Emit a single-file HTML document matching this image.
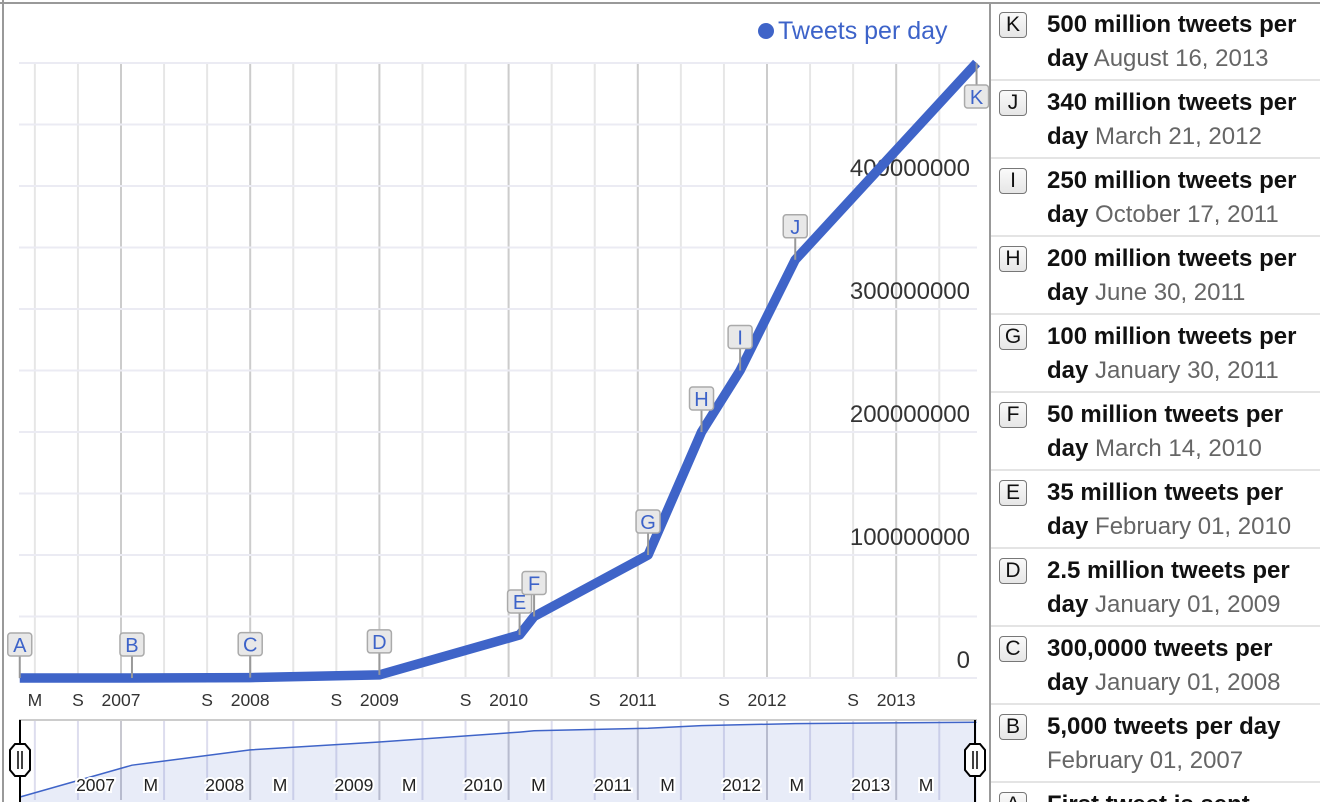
<!DOCTYPE html>
<html><head><meta charset="utf-8"><style>
html,body{margin:0;width:1320px;height:802px;overflow:hidden;background:#fff;font-family:"Liberation Sans",sans-serif;position:relative}
#panel{position:absolute;left:989px;top:3px;width:331px;height:799px;border-left:2px solid #999;overflow:hidden}
.row{position:absolute;left:0;width:331px;height:76px;border-bottom:2px solid #e4e4e4;overflow:hidden}
.lb{position:absolute;left:8px;top:9px;width:26px;height:24px;border:1.5px solid #777;border-radius:4px;background:linear-gradient(#fafafa,#e6e6e6);font-size:21px;text-align:center;line-height:24px;color:#111}
.tx{position:absolute;left:56px;top:5px;font-size:24px;line-height:34px;color:#111;white-space:nowrap}
.tx b{font-weight:bold}.tx span{color:#666}
</style></head><body>
<svg id="chart" width="1320" height="802" style="position:absolute;left:0;top:0"></svg>
<div id="panel"></div>
<script>
const letters=["A","B","C","D","E","F","G","H","I","J","K"];
const dates=["2006-03-21","2007-02-01","2008-01-01","2009-01-01","2010-02-01","2010-03-14","2011-01-30","2011-06-30","2011-10-17","2012-03-21","2013-08-16"];
const values=[0,5000,300000,2500000,35000000,50000000,100000000,200000000,250000000,340000000,500000000];
const titles=["First tweet is sent","5,000 tweets per day","300,0000 tweets per","2.5 million tweets per","35 million tweets per","50 million tweets per","100 million tweets per","200 million tweets per","250 million tweets per","340 million tweets per","500 million tweets per"];
const titleRest=["","","day","day","day","day","day","day","day","day","day"];
const dateLabels=["March 21, 2006","February 01, 2007","January 01, 2008","January 01, 2009","February 01, 2010","March 14, 2010","January 30, 2011","June 30, 2011","October 17, 2011","March 21, 2012","August 16, 2013"];
const yTicks=[0,100000000,200000000,300000000,400000000];
const yTickLabels=["0","100000000","200000000","300000000","400000000"];
const years=[2006,2007,2008,2009,2010,2011,2012,2013];

const NS="http://www.w3.org/2000/svg",svg=document.getElementById('chart');
function mk(t,a,p){const e=document.createElementNS(NS,t);for(const k in a)e.setAttribute(k,a[k]);(p||svg).appendChild(e);return e;}
function fy(d){const t=new Date(d+"T00:00:00Z");const y=t.getUTCFullYear();const s=Date.UTC(y,0,1),n=Date.UTC(y+1,0,1);return y+(t-s)/(n-s);}
const X=yr=>-8.2+(yr-2006)*129.2;
const Y=v=>678-v*615/500000000;
const NY=v=>797-8.6*Math.log10(v+1);

let e=mk('line',{x1:3,y1:0,x2:3,y2:802,stroke:'#999','stroke-width':2});

e=mk('line',{x1:0,y1:3,x2:1320,y2:3,stroke:'#999','stroke-width':2});


for(let yr=2006;yr<2014;yr++){for(let m=0;m<12;m+=4){const x=X(yr+m/12);if(x<19||x>977)continue;
 const major=m===0;
 e=mk('line',{x1:x,y1:63,x2:x,y2:678,stroke:major?'#ccc':'#e6e6e6','stroke-width':2});
 
 e=mk('line',{x1:x,y1:720,x2:x,y2:800,stroke:major?'#c8c8d0':'#dde','stroke-width':2});
 }}
for(let v=0;v<=500000000;v+=50000000){e=mk('line',{x1:19,y1:Y(v),x2:977,y2:Y(v),stroke:'#ebebf3','stroke-width':2});
 }
yTicks.forEach((v,i)=>{e=mk('text',{x:970,y:Y(v)-10,'text-anchor':'end','font-size':24,fill:'#333'});e.textContent=yTickLabels[i];
 });
const xl=[[2006+4/12,'M']];years.forEach(y=>{xl.push([y+8/12,'S']);if(y>2006)xl.push([y,String(y)]);});
xl.forEach(([t,s])=>{const x=X(t);if(x>960)return;e=mk('text',{x:x,y:706,'text-anchor':'middle','font-size':17.5,fill:'#333'});e.textContent=s;
 });

const pts=dates.map((d,i)=>[X(fy(d)),Y(values[i])]);
e=mk('polyline',{points:pts.map(p=>p.join(',')).join(' '),fill:'none',stroke:'#3f64c8','stroke-width':9.5,'stroke-linejoin':'round'});


pts.forEach((p,i)=>{const g=mk('g',{});
 const below=i===letters.length-1;const bx=p[0]-12,by=below?p[1]+22:p[1]-45;
 mk('line',{x1:p[0],y1:p[1],x2:p[0],y2:below?by:by+23,stroke:'#999','stroke-width':2},g);
 mk('rect',{x:bx,y:by,width:24,height:23,rx:3,fill:'#e8e8e8',stroke:'#aaa','stroke-width':1.5},g);
 const t=mk('text',{x:p[0],y:by+19,'text-anchor':'middle','font-size':20,fill:'#3d63c9'},g);t.textContent=letters[i];});

e=mk('circle',{cx:766,cy:31,r:8,fill:'#3f64c8'});
e=mk('text',{x:778,y:39,'font-size':25,fill:'#3d63c9'});e.textContent='Tweets per day';

e=mk('line',{x1:19,y1:720,x2:977,y2:720,stroke:'#ccc','stroke-width':2});
const np=dates.map((d,i)=>[Math.max(20,X(fy(d))),NY(values[i])]);
e=mk('polygon',{points:'20,802 '+np.map(p=>p.join(',')).join(' ')+' 977,802',fill:'rgba(63,100,200,0.12)'});

e=mk('polyline',{points:np.map(p=>p.join(',')).join(' '),fill:'none',stroke:'#3f64c8','stroke-width':1.5});

years.forEach(y=>{if(y===2006)return;[[y,String(y)],[y+4/12,'M']].forEach(([t,s])=>{const x=X(t)-6;if(x>960)return;
 e=mk('text',{x:x,y:791,'text-anchor':'end','font-size':17.5,fill:'#222',stroke:'#fff','stroke-width':4,'paint-order':'stroke'});e.textContent=s;
 });});
[20,975].forEach((x,i)=>{const g=mk('g',{});
 mk('line',{x1:x,y1:720,x2:x,y2:802,stroke:'#000','stroke-width':2},g);
 mk('polygon',{points:`${x-5},744 ${x+5},744 ${x+10},750 ${x+10},770 ${x+5},776 ${x-5},776 ${x-10},770 ${x-10},750`,fill:'#fff',stroke:'#000','stroke-width':2},g);
 mk('line',{x1:x-2,y1:751,x2:x-2,y2:769,stroke:'#000','stroke-width':1.5},g);
 mk('line',{x1:x+2,y1:751,x2:x+2,y2:769,stroke:'#000','stroke-width':1.5},g);});

const panel=document.getElementById('panel');
for(let k=0;k<letters.length;k++){const i=letters.length-1-k;
 const r=document.createElement('div');r.className='row';r.style.top=(k*78)+'px';
 if(k===letters.length-1){r.style.height='19px';r.style.borderBottom='none';}
 
 const rest=titleRest[i]?'<b>'+titleRest[i]+'</b> ':'';
 r.innerHTML='<div class="lb">'+letters[i]+'</div><div class="tx"><b>'+titles[i]+'</b><br>'+rest+'<span>'+dateLabels[i]+'</span></div>';
 panel.appendChild(r);}
</script>
</body></html>
